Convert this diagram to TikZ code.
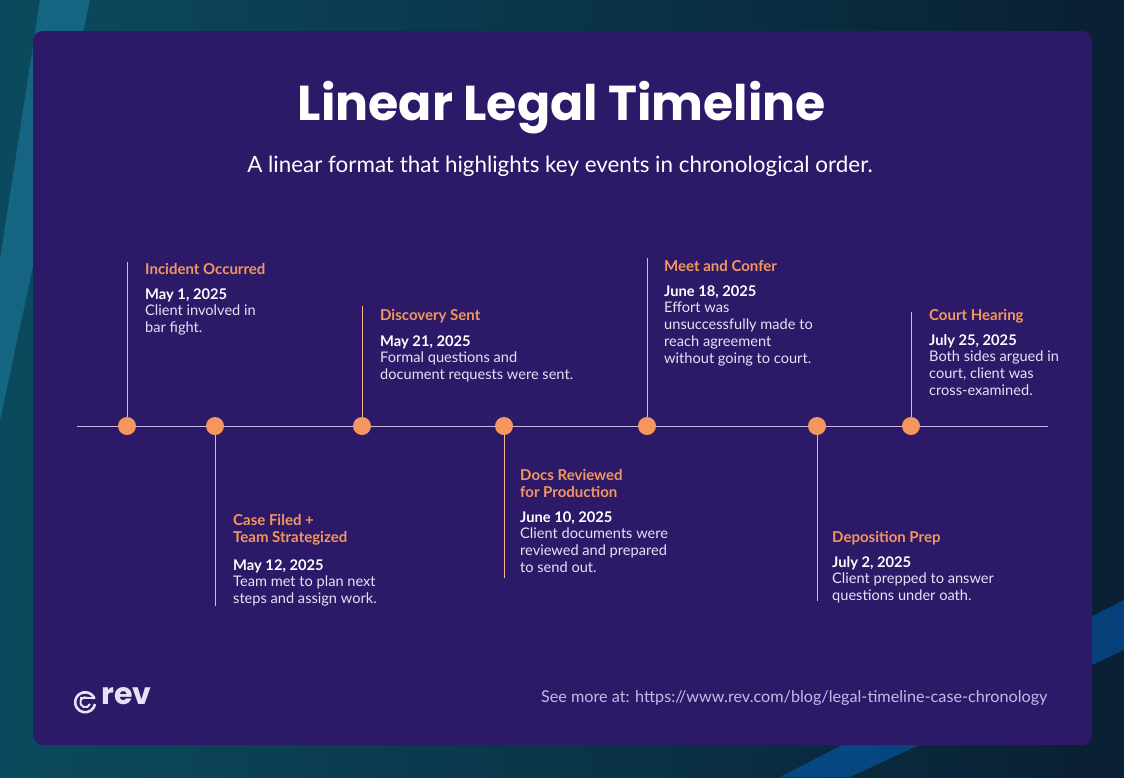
\documentclass[tikz,border=0pt]{standalone}
\usepackage{fontspec}
\setmainfont{Lato}
\newfontfamily\titlefont{Poppins}
\definecolor{card}{HTML}{2C1A68}
\definecolor{accent}{HTML}{F4965E}
\definecolor{axis}{HTML}{C8B8E8}
\definecolor{body}{HTML}{E6E1F5}
\definecolor{bgA}{HTML}{0B4A5E}
\definecolor{bgB}{HTML}{0A1F33}
\tikzset{
  evtitle/.style={anchor=base west,inner sep=0pt,text=accent,font=\fontsize{15}{17}\selectfont\bfseries},
  evdate/.style={anchor=base west,inner sep=0pt,text=white,font=\fontsize{14.7}{17}\selectfont\bfseries},
  evdesc/.style={anchor=north west,inner sep=0pt,text=body,align=left,font=\fontsize{14.6}{17}\selectfont},
  stem/.style={draw=accent!70!white,line width=0.9pt},
  dot/.style={circle,fill=accent,minimum size=18pt,inner sep=0pt}
}
\begin{document}
\begin{tikzpicture}[x=1pt,y=-1pt]
\useasboundingbox (0,0) rectangle (1124,777);
\shade[left color=bgA,right color=bgB] (0,0) rectangle (1124,777);
\fill[cyan!60!teal,opacity=0.35] (0,260) -- (40,0) -- (90,0) -- (0,420) -- cycle;
\fill[blue!50!cyan,opacity=0.35] (780,777) -- (1124,600) -- (1124,650) -- (850,777) -- cycle;
\fill[card] (33,31) [rounded corners=10pt] rectangle (1092,745);
\node[text=white,font=\titlefont\fontsize{49}{55}\selectfont\bfseries] (title) at (562,108) {Linear Legal Timeline};
\node[text=white,font=\fontsize{22.4}{26}\selectfont] (sub) at (560,166) {A linear format that highlights key events in chronological order.};
\coordinate (L) at (77,426); \coordinate (R) at (1048,426);
\draw[axis,line width=1pt] (L) -- (R);
\coordinate (t1) at (127,262); \coordinate (t2) at (215,606); \coordinate (t3) at (362,306);
\coordinate (t4) at (504,578); \coordinate (t5) at (647,258); \coordinate (t6) at (817,601);
\coordinate (t7) at (911,312);
\foreach \i/\x in {1/127,2/215,3/362,4/504,5/647,6/817,7/911}{
  \coordinate (b\i) at (\x,426);
  \draw[stem] (t\i) -- (b\i);
  \node[dot] (d\i) at (b\i) {};
}
\node[evtitle] (e1) at (145,274) {Incident Occurred};
\node[evdate] (f1) at (145,299) {May 1, 2025};
\node[evdesc] (g1) at (145,305) {Client involved in\\bar fight.};

\node[evtitle,align=left] (e2) at (233,542) {Case Filed +\\Team Strategized};
\node[evdate] (f2) at (233,570) {May 12, 2025};
\node[evdesc] (g2) at (233,576) {Team met to plan next\\steps and assign work.};

\node[evtitle] (e3) at (380,320) {Discovery Sent};
\node[evdate] (f3) at (380,346) {May 21, 2025};
\node[evdesc] (g3) at (380,352) {Formal questions and\\document requests were sent.};

\node[evtitle,align=left] (e4) at (520,497) {Docs Reviewed\\for Production};
\node[evdate] (f4) at (520,522) {June 10, 2025};
\node[evdesc] (g4) at (520,528) {Client documents were\\reviewed and prepared\\to send out.};

\node[evtitle] (e5) at (664,271) {Meet and Confer};
\node[evdate] (f5) at (664,296) {June 18, 2025};
\node[evdesc] (g5) at (664,302) {Effort was\\unsuccessfully made to\\reach agreement\\without going to court.};

\node[evtitle] (e6) at (832,542) {Deposition Prep};
\node[evdate] (f6) at (832,567) {July 2, 2025};
\node[evdesc] (g6) at (832,573) {Client prepped to answer\\questions under oath.};

\node[evtitle] (e7) at (929,320) {Court Hearing};
\node[evdate] (f7) at (929,345) {July 25, 2025};
\node[evdesc] (g7) at (929,351) {Both sides argued in\\court, client was\\cross-examined.};

\node[anchor=east,text=axis,font=\fontsize{16.2}{19}\selectfont] (url) at (1051,698) {See more at: https://www.rev.com/blog/legal-timeline-case-chronology};
\draw[body,line width=2.6pt] (95,704) arc[start angle=-10,end angle=-340,radius=10pt];
\draw[body,line width=2.2pt] (80,698) -- (95,698);
\draw[body,line width=2pt] (90,704) arc[start angle=-20,end angle=-300,radius=5pt];
\node[anchor=west,text=body,font=\titlefont\fontsize{30}{32}\selectfont\bfseries] (logo) at (98,696) {rev};
\end{tikzpicture}
\end{document}
